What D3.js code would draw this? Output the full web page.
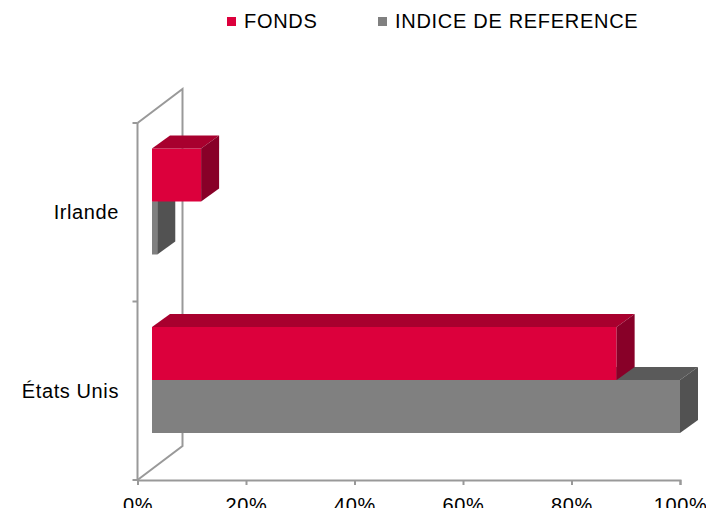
<!DOCTYPE html>
<html>
<head>
<meta charset="utf-8">
<script src="https://cdn.jsdelivr.net/npm/d3@7"></script>
<style>
  body { margin: 0; background: #fff; }
  text { font-family: "Liberation Sans", Arial, sans-serif; fill: #000; }
</style>
</head>
<body>
<script>
// chart data
const categories = ["Irlande", "États Unis"];
const fonds = [0.093, 0.88];
const indice = [0.01, 1.0];
const tickValues = [0, 0.2, 0.4, 0.6, 0.8, 1.0];
const seriesNames = ["FONDS", "INDICE DE REFERENCE"];

const w = 706, h = 508;
const red = { front: "#dc003c", top: "#a8002e", side: "#880028" };
const grey = { front: "#808080", top: "#5a5a5a", side: "#525252" };

const svg = d3.select("body").append("svg")
    .attr("width", w)
    .attr("height", h);

// front plane of the plot and depth of the walls
const x = d3.scaleLinear().domain([0, 1]).range([137.5, 680]);
const xBar = d3.scaleLinear().domain([0, 1]).range([152, 680]);
const y = d3.scaleBand().domain(categories).range([123, 480]);
const wallDx = 45, wallDy = -34;
const barDx = 18, barDy = -13;
const barH = 53;

const axisColor = "#999";

// side wall outline
const wall = svg.append("g")
    .attr("fill", "none")
    .attr("stroke", axisColor)
    .attr("stroke-width", 2);
const x0 = x(0), yTop = y.range()[0], yBot = y.range()[1];
wall.append("path").attr("d", d3.line()([
    [x0, yTop], [x0 + wallDx, yTop + wallDy], [x0 + wallDx, yBot + wallDy], [x0, yBot]
]));

// left axis with category ticks
wall.append("line").attr("x1", x0).attr("x2", x0).attr("y1", yTop).attr("y2", yBot);
[yTop, yTop + y.bandwidth(), yBot].forEach(function(v) {
    wall.append("line").attr("x1", x0 - 5).attr("x2", x0).attr("y1", v).attr("y2", v);
});

// bottom axis
const xAxis = svg.append("g")
    .attr("transform", "translate(0," + yBot + ")")
    .call(d3.axisBottom(x).tickValues(tickValues).tickFormat(d3.format(".0%")).tickSizeOuter(0).tickSize(5).tickPadding(13));
xAxis.select(".domain").attr("stroke", axisColor).attr("stroke-width", 2);
xAxis.selectAll(".tick line").attr("stroke", axisColor).attr("stroke-width", 2);
xAxis.selectAll(".tick text")
    .style("font-size", "20px")
    .style("letter-spacing", "0.6px")
    .attr("fill", "#000");

// category labels
svg.append("g").selectAll("text")
    .data(categories)
    .enter()
    .append("text")
    .attr("x", 119)
    .attr("y", function(d) { return y(d) + y.bandwidth() / 2 + 7; })
    .attr("text-anchor", "end")
    .style("font-size", "20px")
    .style("letter-spacing", "0.6px")
    .text(function(d) { return d; });

// 3d bars
function drawBar(g, v, top, c) {
    const a = xBar(0), b = xBar(v);
    g.append("rect")
        .attr("x", a).attr("y", top)
        .attr("width", b - a).attr("height", barH)
        .attr("fill", c.front);
    g.append("path")
        .attr("d", d3.line()([[a, top], [a + barDx, top + barDy], [b + barDx, top + barDy], [b, top]]) + "Z")
        .attr("fill", c.top);
    g.append("path")
        .attr("d", d3.line()([[b, top], [b + barDx, top + barDy], [b + barDx, top + barH + barDy], [b, top + barH]]) + "Z")
        .attr("fill", c.side);
}

const bars = svg.append("g");
categories.forEach(function(cat, i) {
    const top = y(cat) + 25.5;
    drawBar(bars, indice[i], top + barH, grey);
    drawBar(bars, fonds[i], top, red);
});

// legend
const legend = svg.append("g");
const legendItems = [
    { name: seriesNames[0], color: red.front, x: 227 },
    { name: seriesNames[1], color: grey.front, x: 378 }
];
legendItems.forEach(function(d) {
    legend.append("rect")
        .attr("x", d.x).attr("y", 17)
        .attr("width", 9).attr("height", 9)
        .attr("fill", d.color);
    legend.append("text")
        .attr("x", d.x + 17).attr("y", 28)
        .style("font-size", "20px")
        .style("letter-spacing", "0.7px")
        .text(d.name);
});
</script>
</body>
</html>
